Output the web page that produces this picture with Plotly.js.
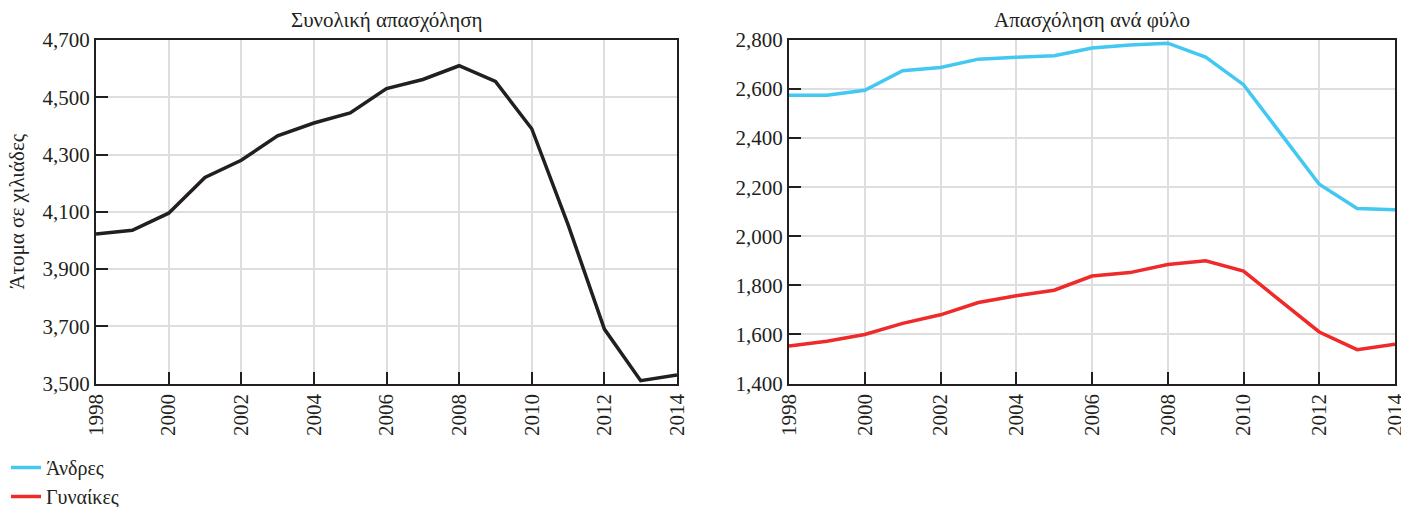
<!DOCTYPE html>
<html>
<head>
<meta charset="utf-8">
<script src="https://cdn.plot.ly/plotly-3.0.1.min.js"></script>
<style>html,body{margin:0;padding:0;background:#fff;}#chart{width:1401px;height:507px;}</style>
</head>
<body>
<div id="chart"></div>
<script>
const years = [1998,1999,2000,2001,2002,2003,2004,2005,2006,2007,2008,2009,2010,2011,2012,2013,2014];
const totalEmployment = [4022,4035,4095,4220,4280,4365,4410,4445,4530,4562,4610,4555,4390,4055,3690,3510,3530];
const menEmployment = [2575,2575,2595,2675,2688,2722,2730,2736,2767,2780,2787,2730,2618,2415,2212,2113,2108];
const womenEmployment = [1553,1572,1600,1645,1680,1730,1758,1780,1838,1852,1885,1900,1858,1735,1610,1538,1560];
const leftTitle = 'Συνολική απασχόληση';
const rightTitle = 'Απασχόληση ανά φύλο';
const yTitle = 'Άτομα σε χιλιάδες';
const menLabel = 'Άνδρες';
const womenLabel = 'Γυναίκες';

const FONT = 'Liberation Serif, Times New Roman, serif';
const INK = '#231f20';
const W = 1401, H = 507;
const px = v => v / W;
const py = v => 1 - v / H;

const traces = [
  {x: years, y: totalEmployment, xaxis: 'x', yaxis: 'y', type: 'scatter', mode: 'lines',
   line: {color: INK, width: 3.5}, showlegend: false, name: leftTitle},
  {x: years, y: menEmployment, xaxis: 'x2', yaxis: 'y2', type: 'scatter', mode: 'lines',
   line: {color: '#43c8f1', width: 3.5}, name: menLabel, legendgroup: 'm'},
  {x: years, y: womenEmployment, xaxis: 'x2', yaxis: 'y2', type: 'scatter', mode: 'lines',
   line: {color: '#ee2a2a', width: 3.5}, name: womenLabel, legendgroup: 'w'}
];

const xCommon = {
  range: [1998, 2014], dtick: 2, tick0: 1998, tickangle: -90,
  ticks: 'inside', ticklen: 12, tickwidth: 2, tickcolor: INK,
  showline: true, linecolor: INK, linewidth: 2, mirror: true,
  showgrid: true, gridcolor: '#dedede', gridwidth: 2, zeroline: false,
  ticklabeloverflow: 'allow', automargin: false,
  tickfont: {family: FONT, size: 21, color: INK}, fixedrange: true
};
const yCommon = {
  dtick: 200, ticks: 'inside', ticklen: 12, tickwidth: 2, tickcolor: INK,
  showline: true, linecolor: INK, linewidth: 2, mirror: true,
  showgrid: true, gridcolor: '#dedede', gridwidth: 2, zeroline: false,
  ticklabeloverflow: 'allow', automargin: false,
  tickformat: ',d', tickfont: {family: FONT, size: 21, color: INK}, fixedrange: true
};

const layout = {
  width: W, height: H,
  margin: {l: 0, r: 0, t: 0, b: 0, autoexpand: false},
  paper_bgcolor: '#fff', plot_bgcolor: '#fff',
  font: {family: FONT, color: INK},
  xaxis: Object.assign({}, xCommon, {domain: [px(96), px(677)], anchor: 'y'}),
  yaxis: Object.assign({}, yCommon, {domain: [py(383.5), py(40)], range: [3500, 4700], tick0: 3500, anchor: 'x',
    title: {text: yTitle, font: {family: FONT, size: 21, color: INK}, standoff: 12}}),
  xaxis2: Object.assign({}, xCommon, {domain: [px(789), px(1395)], anchor: 'y2'}),
  yaxis2: Object.assign({}, yCommon, {domain: [py(383.5), py(40)], range: [1400, 2800], tick0: 1400, anchor: 'x2'}),
  legend: {x: px(6), y: py(448), xanchor: 'left', yanchor: 'top', traceorder: 'grouped',
    tracegroupgap: 0, font: {family: FONT, size: 20, color: INK}, bgcolor: 'rgba(0,0,0,0)'},
  annotations: [
    {text: leftTitle, xref: 'paper', yref: 'paper', x: (px(96) + px(677)) / 2, y: py(20),
     xanchor: 'center', yanchor: 'middle', showarrow: false, font: {family: FONT, size: 21, color: INK}},
    {text: rightTitle, xref: 'paper', yref: 'paper', x: (px(789) + px(1395)) / 2, y: py(20),
     xanchor: 'center', yanchor: 'middle', showarrow: false, font: {family: FONT, size: 21, color: INK}}
  ]
};

Plotly.newPlot('chart', traces, layout, {displayModeBar: false, staticPlot: true});
</script>
</body>
</html>
